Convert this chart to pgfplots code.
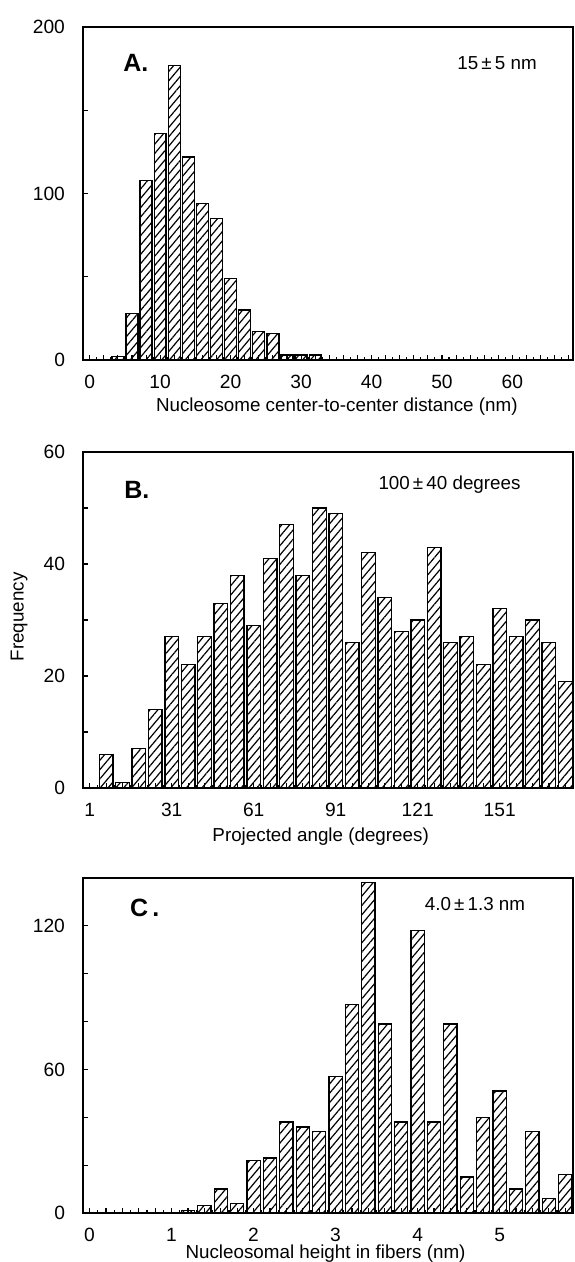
\documentclass[border=0pt]{standalone}
\usepackage{fontspec}
\setmainfont{Liberation Sans}
\usepackage{pgfplots}
\pgfplotsset{compat=1.18}
\usetikzlibrary{patterns.meta}

\pgfplotsset{
  histo/.style={
    scale only axis, width=245pt,
    ybar, ymin=0,
    axis line style={line width=0.7pt},
    tick align=inside, tick style={black, line width=0.55pt},
    major tick length=2.4pt, minor tick length=1.3pt,
    xtick pos=left, ytick pos=left,
    tick label style={font=\fontsize{9.6}{11}\selectfont},
    label style={font=\fontsize{9.4}{11}\selectfont},
    /pgf/number format/assume math mode=true,
    xticklabel style={anchor=center, yshift=-11pt},
    yticklabel style={anchor=east, xshift=-5.5pt},
  },
  hatch/.style={draw=black, line width=0.65pt,
    pattern={Lines[angle=50,distance=3pt,line width=0.6pt]}},
}
\tikzset{
  letter/.style={anchor=west, font=\fontsize{12.5}{13}\selectfont\bfseries},
  note/.style={font=\fontsize{9.4}{11}\selectfont},
}

\begin{document}
\begin{tikzpicture}
% A: center-to-center distance
\begin{axis}[histo, at={(0,0)}, anchor=north west, height=166.5pt,
  xmin=-0.95, xmax=68.6, ymax=200, bar width=1.7,
  xtick={0,2,...,68},
  xticklabels={0,,,,,10,,,,,20,,,,,30,,,,,40,,,,,50,,,,,60},
  minor x tick num=1,
  ytick={0,50,...,200}, yticklabels={0,,100,,200},
  xlabel={Nucleosome center-to-center distance (nm)},
  xlabel style={at={(axis description cs:0.518,0)}, anchor=center, yshift=-23.5pt},
]
\addplot[hatch] coordinates {(4,2) (6,28) (8,108) (10,136) (12,177) (14,122) (16,94) (18,85) (20,49) (22,30) (24,17) (26,16) (28,3) (30,3) (32,3)};
\node[letter] at (rel axis cs:0.068,0.892) {A.};
\node[note] at (rel axis cs:0.845,0.892) {15\,±\,5 nm};
\end{axis}

% B: projected angle
\begin{axis}[histo, at={(0,-212.5pt)}, anchor=north west, height=168pt,
  xmin=-1.45, xmax=177.8, ymax=60, bar width=5,
  xtick={1,7,...,175},
  xticklabels={1,,,,,31,,,,,61,,,,,91,,,,,121,,,,,151},
  minor x tick num=1,
  ytick={0,10,...,60}, yticklabels={0,,20,,40,,60},
  xlabel={Projected angle (degrees)},
  xlabel style={at={(axis description cs:0.485,0)}, anchor=center, yshift=-24.5pt},
  ylabel={Frequency},
  ylabel style={at={(axis description cs:-0.1306,0.509)}, anchor=center},
]
\addplot[hatch] coordinates {(7,6) (13,1) (19,7) (25,14) (31,27) (37,22) (43,27) (49,33) (55,38) (61,29) (67,41) (73,47) (79,38) (85,50) (91,49) (97,26) (103,42) (109,34) (115,28) (121,30) (127,43) (133,26) (139,27) (145,22) (151,32) (157,27) (163,30) (169,26) (175,19)};
\node[letter] at (rel axis cs:0.07,0.887) {B.};
\node[note] at (rel axis cs:0.748,0.902) {100\,±\,40 degrees};
\end{axis}

% C: nucleosomal height
\begin{axis}[histo, at={(0,-425.5pt)}, anchor=north west, height=167.5pt,
  xmin=-0.08, xmax=5.895, ymax=140, bar width=0.161,
  xtick={0,0.2,0.4,0.6,0.8,1,1.2,1.4,1.6,1.8,2,2.2,2.4,2.6,2.8,3,3.2,3.4,3.6,3.8,4,4.2,4.4,4.6,4.8,5,5.2,5.4,5.6,5.8},
  xticklabels={0,,,,,1,,,,,2,,,,,3,,,,,4,,,,,5},
  minor x tick num=1,
  ytick={0,20,...,140}, yticklabels={0,,,60,,,120,},
  xlabel={Nucleosomal height in fibers (nm)},
  xlabel style={at={(axis description cs:0.495,0)}, anchor=center, yshift=-20.5pt},
]
\addplot[hatch] coordinates {(1.2,1) (1.4,3) (1.6,10) (1.8,4) (2.0,22) (2.2,23) (2.4,38) (2.6,36) (2.8,34) (3.0,57) (3.2,87) (3.4,138) (3.6,79) (3.8,38) (4.0,118) (4.2,38) (4.4,79) (4.6,15) (4.8,40) (5.0,51) (5.2,10) (5.4,34) (5.6,6) (5.8,16)};
\node[letter] at (rel axis cs:0.082,0.910) {C\,.};
\node[note] at (rel axis cs:0.80,0.922) {4.0\,±\,1.3 nm};
\end{axis}

\pgfresetboundingbox
\path[use as bounding box] (-41.5pt,13.5pt) rectangle (245.5pt,-617.5pt);
\end{tikzpicture}
\end{document}
